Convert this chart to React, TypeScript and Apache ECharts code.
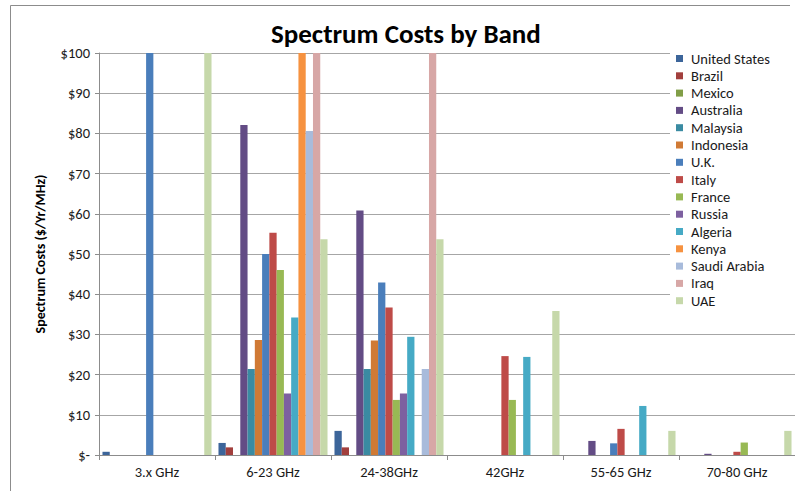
import React, { useEffect, useRef } from "react";
import * as echarts from "echarts";

const categories = ["3.x GHz", "6-23 GHz", "24-38GHz", "42GHz", "55-65 GHz", "70-80 GHz"];

const countries = [
  "United States", "Brazil", "Mexico", "Australia", "Malaysia", "Indonesia", "U.K.",
  "Italy", "France", "Russia", "Algeria", "Kenya", "Saudi Arabia", "Iraq", "UAE",
];

const colors = [
  "#3C659A", "#A23F3D", "#819E47", "#634C85", "#3A8BA2", "#D07A35", "#4A7EBB",
  "#BE4B48", "#98B954", "#7D60A0", "#46AAC5", "#F69240", "#A8BBDB", "#D7A7A6", "#C6D8AA",
];

// values per country across the six bands (null = no bar)
const unitedStates = [0.8, 3.0, 6.0, null, null, null];
const brazil = [null, 1.9, 1.9, null, null, null];
const mexico = [null, null, null, null, null, null];
const australia = [null, 82.1, 60.8, null, 3.5, 0.3];
const malaysia = [null, 21.4, 21.4, null, null, null];
const indonesia = [null, 28.6, 28.5, null, null, null];
const uk = [100, 50.0, 42.9, null, 2.9, null];
const italy = [null, 55.3, 36.7, 24.6, 6.5, 0.8];
const france = [null, 46.0, 13.7, 13.7, null, 3.1];
const russia = [null, 15.3, 15.3, null, null, null];
const algeria = [null, 34.2, 29.4, 24.4, 12.2, null];
const kenya = [null, 100, null, null, null, null];
const saudiArabia = [null, 80.6, 21.4, null, null, null];
const iraq = [null, 100, 100, null, null, null];
const uae = [100, 53.7, 53.7, 35.8, 6.0, 6.0];

const seriesValues = [
  unitedStates, brazil, mexico, australia, malaysia, indonesia, uk,
  italy, france, russia, algeria, kenya, saudiArabia, iraq, uae,
];

const yTicks = [0, 10, 20, 30, 40, 50, 60, 70, 80, 90, 100];

const FONT = "Carlito, Lato, 'Open Sans', sans-serif";

export default function App() {
  const ref = useRef<HTMLDivElement>(null);
  useEffect(() => {
    if (!ref.current) return;
    const chart = echarts.init(ref.current, undefined, { renderer: "svg" });
    chart.setOption({
      animation: false,
      backgroundColor: "#fff",
      textStyle: { fontFamily: FONT },
      title: {
        text: "Spectrum Costs by Band",
        left: 266,
        top: 15,
        textStyle: { fontFamily: FONT, fontSize: 27, fontWeight: "bold", color: "#000" },
      },
      graphic: [
        {
          type: "polyline",
          shape: { points: [[10.5, 500], [10.5, 5.5], [790, 5.5]] },
          style: { stroke: "#8c8c8c", lineWidth: 1, fill: "none" },
          silent: true,
        },
      ],
      legend: {
        orient: "vertical",
        left: 670,
        top: 46,
        data: countries,
        itemWidth: 7,
        itemHeight: 7,
        itemGap: 2.3,
        icon: "rect",
        backgroundColor: "#fff",
        padding: [5, 30, 5, 6],
        textStyle: { fontFamily: FONT, fontSize: 14.5, lineHeight: 14, color: "#1a1a1a", padding: [0, 0, 0, 3] },
        z: 10,
      },
      grid: { left: 99, top: 53, right: -2, bottom: 36, containLabel: false },
      xAxis: {
        type: "category",
        data: categories,
        boundaryGap: true,
        axisLine: { lineStyle: { color: "#8c8c8c", width: 1 } },
        axisTick: { show: true, interval: 0, length: 5, lineStyle: { color: "#8c8c8c" } },
        axisLabel: { fontFamily: FONT, fontSize: 14.5, color: "#1a1a1a", margin: 9, interval: 0 },
      },
      yAxis: {
        type: "value",
        min: 0,
        max: 100,
        interval: 10,
        name: "Spectrum Costs ($/Yr/MHz)",
        nameLocation: "middle",
        nameGap: 52,
        nameRotate: 90,
        nameTextStyle: { fontFamily: FONT, fontSize: 14, fontWeight: "bold", color: "#000" },
        axisLine: { show: true, lineStyle: { color: "#8c8c8c", width: 1 } },
        axisTick: { show: true, length: 4, lineStyle: { color: "#8c8c8c" } },
        splitLine: { show: true, lineStyle: { color: "#a6a6a6", width: 1 } },
        axisLabel: {
          fontFamily: FONT,
          fontSize: 14.5,
          color: "#1a1a1a",
          margin: 9,
          formatter: (v: number) => (yTicks.includes(v) ? (v === 0 ? "$-" : "$" + v) : ""),
        },
      },
      series: countries.map((name, i) => ({
        name,
        type: "bar",
        data: seriesValues[i],
        itemStyle: { color: colors[i] },
        barGap: "0%",
        barCategoryGap: "6%",
      })),
    });
    return () => chart.dispose();
  }, []);
  return (
    <div
      ref={ref}
      style={{ position: "absolute", left: 0, top: 0, width: 795, height: 491 }}
    />
  );
}
